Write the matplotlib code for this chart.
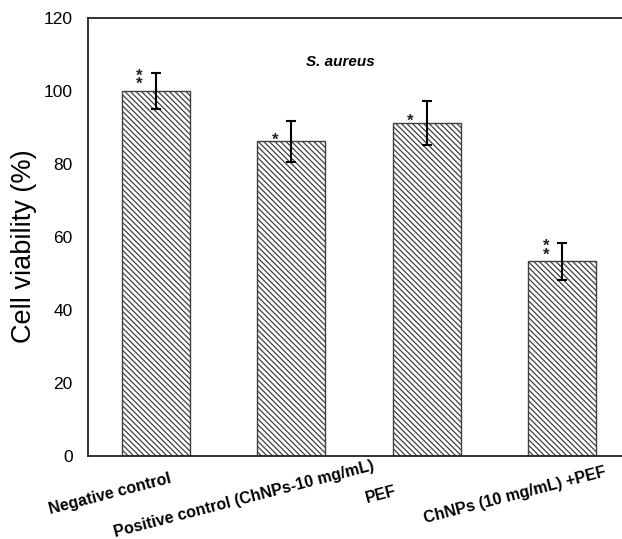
import matplotlib
matplotlib.use("Agg")
import matplotlib.pyplot as plt

# Data
categories = ["Negative control", "Positive control (ChNPs-10 mg/mL)", "PEF",
              "ChNPs (10 mg/mL) +PEF"]
viability = [100.0, 86.2, 91.3, 53.3]
errors = [4.9, 5.6, 6.0, 5.0]
significance = ["*\n*", "*", "*", "*\n*"]
yticks = [0, 20, 40, 60, 80, 100, 120]

plt.rcParams["font.family"] = ["Liberation Sans", "DejaVu Sans"]
plt.rcParams["hatch.linewidth"] = 0.9
plt.rcParams["hatch.color"] = "#2a2a2a"

fig = plt.figure(figsize=(6.22, 5.39), dpi=100)
ax = fig.add_axes([0.1415, 0.154, 0.8714, 0.8126])

x = list(range(len(categories)))
ax.bar(x, viability, width=0.5, color="white", edgecolor="#404040",
       linewidth=1.0, hatch="\\" * 6)
ax.errorbar(x, viability, yerr=errors, fmt="none", ecolor="black",
            elinewidth=1.5, capsize=3.5, capthick=1.5)

# Significance marks just left of each error bar
for xi, v, s in zip(x, viability, significance):
    stacked = "\n" in s
    ax.annotate(s, xy=(xi - 0.12, v), xycoords="data",
                xytext=(0, 2 if stacked else -3),
                textcoords="offset pixels", ha="center", va="baseline",
                fontsize=12, fontweight="bold", linespacing=0.45,
                color="#222222")

ax.set_xlim(-0.5, 3.5)
ax.set_ylim(0, 120)
ax.set_yticks(yticks)
ax.set_yticklabels([str(t) for t in yticks], fontsize=12.5)
ax.tick_params(axis="y", length=0, pad=11)
ax.set_xticks([])
ax.set_ylabel("Cell viability (%)", fontsize=19.5)
ax.yaxis.set_label_coords(-0.094, 0.479)

for sp in ax.spines.values():
    sp.set_color("#222222")
    sp.set_linewidth(1.3)

ax.text(1.36, 108, "S. aureus", ha="center", va="center", fontsize=11,
        fontweight="bold", fontstyle="italic")

# Staggered, slightly rotated category labels under the axis
label_x = [-0.34, 0.65, 1.66, 2.65]
label_dy = [-38, -43, -39, -39]
for lx, dy, name in zip(label_x, label_dy, categories):
    ax.annotate(name, xy=(lx, 0), xycoords="data", xytext=(0, dy),
                textcoords="offset pixels", ha="center", va="center",
                rotation=14.5, rotation_mode="anchor", fontsize=11.5,
                fontweight="bold", annotation_clip=False)

fig.savefig("out.png", dpi=100)
